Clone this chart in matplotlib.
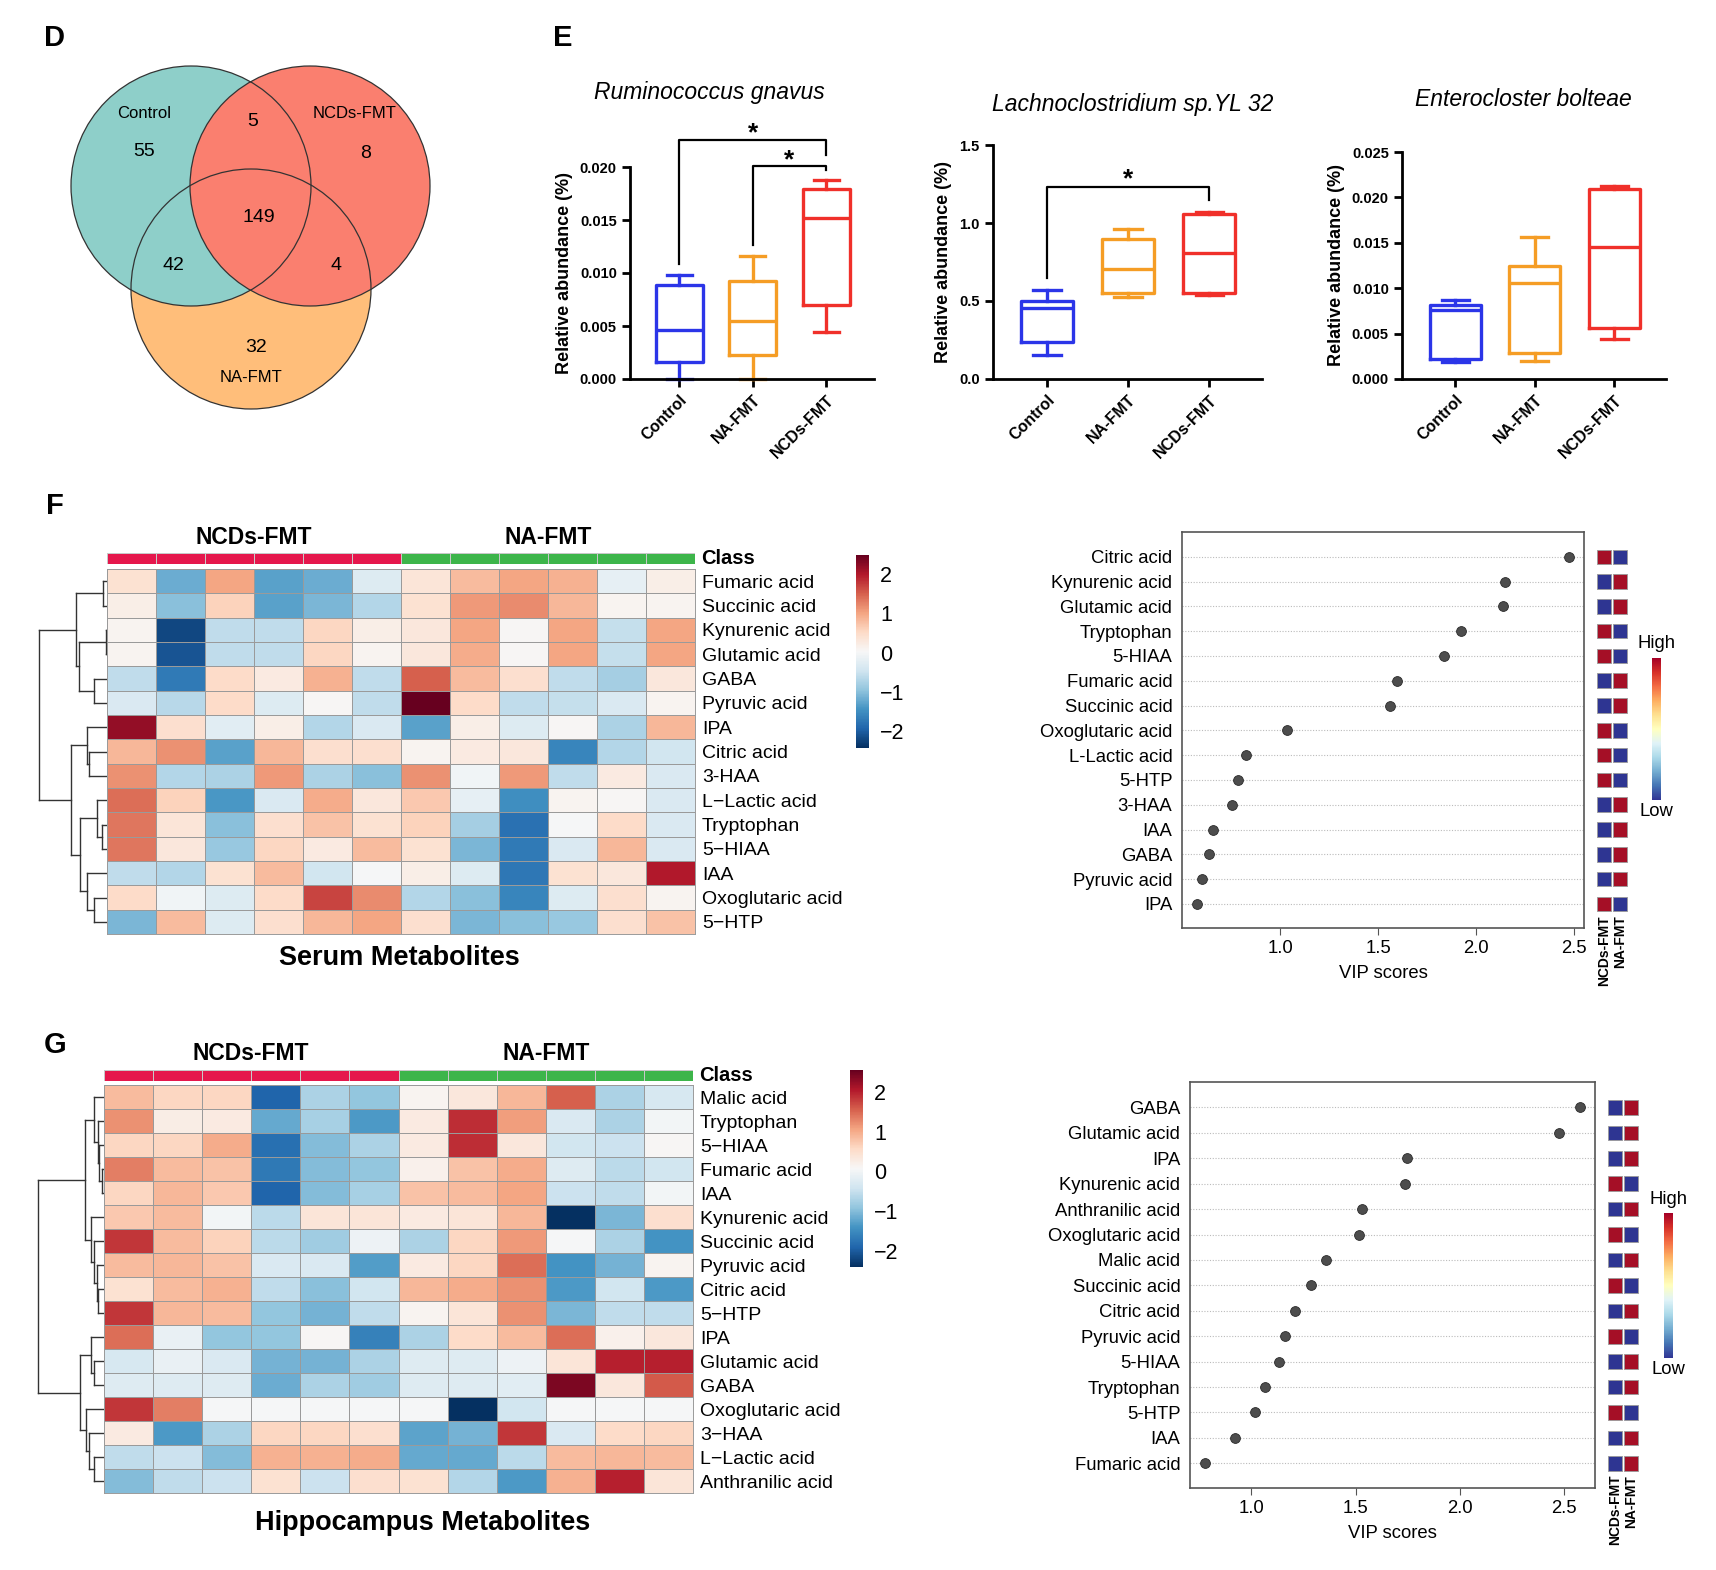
import numpy as np
import matplotlib
matplotlib.use('Agg')
import matplotlib.pyplot as plt
from matplotlib.patches import Circle
from matplotlib.colors import ListedColormap
from matplotlib import font_manager
from matplotlib.cm import ScalarMappable
from matplotlib.colors import Normalize

plt.rcParams['font.family'] = ['Liberation Sans', 'DejaVu Sans']

installed = {f.name for f in font_manager.fontManager.ttflist}
if 'Liberation Sans Narrow' in installed:
    narrow = ['Liberation Sans Narrow', 'DejaVu Sans']
    vip_fs = 14.5
else:
    narrow = ['Liberation Sans', 'DejaVu Sans']
    vip_fs = 13.3

# ---------------- data ----------------
# Venn (D)
venn_sets = ['Control', 'NCDs-FMT', 'NA-FMT']
venn_regions = ['C', 'CN', 'N', 'CNA', 'CA', 'NA', 'A']
venn_counts = [55, 5, 8, 149, 42, 4, 32]

# box plots (E)
box_groups = ['Control', 'NA-FMT', 'NCDs-FMT']
box_titles = ['Ruminococcus gnavus', 'Lachnoclostridium sp.YL 32', 'Enterocloster bolteae']

rg_min = [0.0, 0.0, 0.00441]
rg_q1 = [0.00164, 0.0023, 0.00702]
rg_med = [0.00463, 0.00548, 0.01521]
rg_q3 = [0.00885, 0.00926, 0.01795]
rg_max = [0.00983, 0.01162, 0.01874]

lc_min = [0.156, 0.528, 0.538]
lc_q1 = [0.237, 0.553, 0.553]
lc_med = [0.453, 0.703, 0.81]
lc_q3 = [0.502, 0.895, 1.058]
lc_max = [0.57, 0.959, 1.073]

eb_min = [0.00191, 0.00203, 0.00442]
eb_q1 = [0.00221, 0.00284, 0.0056]
eb_med = [0.00755, 0.01057, 0.01454]
eb_q3 = [0.0081, 0.01245, 0.02091]
eb_max = [0.00873, 0.01565, 0.02124]

# significance brackets: (group a, group b, bar level, left leg end, right leg end)
rg_sig = [(0, 2, 0.02255, 0.01087, 0.0211), (1, 2, 0.02006, 0.01266, 0.01975)]
lc_sig = [(0, 2, 1.233, 0.645, 1.147)]
eb_sig = []

# heatmap F (serum)
samples_class = [0] * 6 + [1] * 6   # 0 = NCDs-FMT, 1 = NA-FMT
serum_rows = ['Fumaric acid', 'Succinic acid', 'Kynurenic acid', 'Glutamic acid', 'GABA',
              'Pyruvic acid', 'IPA', 'Citric acid', '3-HAA', 'L\u2212Lactic acid',
              'Tryptophan', '5\u2212HIAA', 'IAA', 'Oxoglutaric acid', '5\u2212HTP']
serum_z = [
    [0.40, -1.20, 1.00, -1.30, -1.20, -0.30, 0.35, 0.80, 1.00, 0.90, -0.20, 0.20],
    [0.20, -1.00, 0.60, -1.30, -1.10, -0.70, 0.40, 1.10, 1.20, 0.85, 0.10, 0.10],
    [0.10, -2.20, -0.60, -0.60, 0.55, 0.20, 0.30, 1.00, 0.05, 1.00, -0.55, 1.00],
    [0.10, -2.10, -0.60, -0.60, 0.55, 0.10, 0.30, 0.95, 0.05, 1.00, -0.55, 1.00],
    [-0.60, -1.70, 0.50, 0.25, 0.90, -0.60, 1.50, 0.80, 0.45, -0.60, -0.80, 0.30],
    [-0.35, -0.65, 0.50, -0.30, 0.05, -0.60, 2.60, 0.50, -0.60, -0.55, -0.35, 0.10],
    [2.20, 0.45, -0.25, 0.20, -0.70, -0.35, -1.30, 0.20, -0.30, 0.05, -0.75, 0.85],
    [0.85, 1.15, -1.30, 0.85, 0.45, 0.45, 0.10, 0.25, 0.30, -1.60, -0.70, -0.45],
    [1.15, -0.70, -0.75, 1.10, -0.75, -1.00, 1.15, -0.05, 1.10, -0.60, 0.25, -0.35],
    [1.40, 0.60, -1.40, -0.35, 0.95, 0.30, 0.70, -0.20, -1.50, 0.10, 0.05, -0.35],
    [1.35, 0.35, -1.00, 0.45, 0.75, 0.40, 0.60, -0.80, -1.80, 0.00, 0.50, -0.35],
    [1.35, 0.30, -0.90, 0.55, 0.25, 0.80, 0.40, -1.10, -1.70, -0.35, 0.85, -0.35],
    [-0.60, -0.70, 0.40, 0.80, -0.45, 0.00, 0.20, -0.30, -1.75, 0.40, 0.30, 2.00],
    [0.50, -0.05, -0.30, 0.50, 1.70, 1.20, -0.70, -1.00, -1.60, -0.30, 0.45, 0.10],
    [-1.10, 0.80, -0.30, 0.45, 0.85, 1.00, 0.45, -1.10, -1.00, -0.90, 0.45, 0.75],
]
# row dendrogram: (child a, child b, height); children >= n are earlier merges
serum_merges = [(0, 1, 10), (2, 3, 2), (4, 5, 33), (16, 17, 73), (15, 18, 82),
                (7, 8, 48), (6, 20, 53), (10, 11, 12), (9, 22, 25), (13, 14, 35),
                (12, 24, 52), (23, 25, 70), (21, 26, 95), (19, 27, 180)]

# heatmap G (hippocampus)
hippo_rows = ['Malic acid', 'Tryptophan', '5\u2212HIAA', 'Fumaric acid', 'IAA', 'Kynurenic acid',
              'Succinic acid', 'Pyruvic acid', 'Citric acid', '5\u2212HTP', 'IPA', 'Glutamic acid',
              'GABA', 'Oxoglutaric acid', '3\u2212HAA', 'L\u2212Lactic acid', 'Anthranilic acid']
hippo_z = [
    [0.85, 0.60, 0.60, -1.90, -0.70, -0.90, 0.15, 0.35, 0.90, 1.55, -0.70, -0.35],
    [1.20, 0.25, 0.30, -1.20, -0.75, -1.35, 0.30, 1.90, 1.10, -0.30, -0.70, 0.00],
    [0.60, 0.60, 1.00, -1.80, -1.00, -0.70, 0.30, 1.90, 0.35, -0.40, -0.45, 0.10],
    [1.35, 0.85, 0.80, -1.70, -1.00, -0.90, 0.20, 0.80, 1.00, -0.25, -0.60, -0.40],
    [0.60, 0.90, 0.75, -1.90, -1.00, -0.75, 0.80, 0.85, 1.05, -0.45, -0.55, 0.00],
    [0.75, 0.85, 0.00, -0.60, 0.40, 0.40, 0.30, 0.40, 0.90, -2.50, -1.05, 0.50],
    [1.85, 0.85, 0.65, -0.60, -0.80, -0.05, -0.70, 0.60, 1.15, 0.05, -0.70, -1.40],
    [0.85, 0.90, 0.80, -0.30, -0.30, -1.30, 0.30, 0.60, 1.45, -1.40, -1.10, 0.15],
    [0.45, 0.85, 0.95, -0.55, -0.95, -0.40, 0.90, 1.00, 1.20, -1.35, -0.40, -1.35],
    [1.85, 0.90, 0.85, -0.90, -1.10, -0.55, 0.15, 0.40, 1.20, -1.05, -0.55, -0.55],
    [1.45, -0.10, -0.90, -0.90, 0.10, -1.60, -0.70, 0.55, 0.85, 1.45, 0.20, 0.35],
    [-0.35, -0.10, -0.30, -1.10, -1.10, -0.70, -0.25, -0.25, -0.05, 0.40, 2.00, 2.00],
    [-0.25, -0.25, -0.25, -1.15, -0.70, -0.80, -0.25, -0.25, -0.20, 2.40, 0.35, 1.60],
    [1.85, 1.35, 0.05, 0.05, 0.05, 0.05, 0.05, -2.50, -0.40, 0.05, 0.05, 0.05],
    [0.30, -1.35, -0.70, 0.60, 0.60, 0.50, -1.25, -1.10, 1.85, -0.30, 0.55, 0.60],
    [-0.55, -0.45, -1.00, 0.95, 0.95, 1.00, -1.20, -1.20, -0.60, 0.85, 0.90, 0.85],
    [-1.00, -0.55, -0.45, 0.45, -0.45, 0.50, 0.45, -0.65, -1.35, 0.95, 2.00, 0.40],
]
hippo_merges = [(3, 4, 6), (2, 17, 13), (1, 18, 16), (0, 19, 28), (8, 9, 16), (7, 21, 20),
                (6, 22, 28), (5, 23, 35), (20, 24, 53), (11, 12, 28), (10, 26, 35),
                (15, 16, 28), (14, 28, 40), (13, 29, 48), (27, 30, 65), (25, 31, 181)]

# VIP scores, with which group is higher (1 = NCDs-FMT high)
serum_vip_names = ['Citric acid', 'Kynurenic acid', 'Glutamic acid', 'Tryptophan', '5-HIAA',
                   'Fumaric acid', 'Succinic acid', 'Oxoglutaric acid', 'L-Lactic acid', '5-HTP',
                   '3-HAA', 'IAA', 'GABA', 'Pyruvic acid', 'IPA']
serum_vip = [2.473, 2.148, 2.135, 1.92, 1.836, 1.597, 1.557, 1.033, 0.825, 0.783,
             0.754, 0.657, 0.633, 0.60, 0.575]
serum_ncds_high = [1, 0, 0, 1, 1, 0, 0, 1, 1, 1, 0, 0, 0, 0, 1]

hippo_vip_names = ['GABA', 'Glutamic acid', 'IPA', 'Kynurenic acid', 'Anthranilic acid',
                   'Oxoglutaric acid', 'Malic acid', 'Succinic acid', 'Citric acid', 'Pyruvic acid',
                   '5-HIAA', 'Tryptophan', '5-HTP', 'IAA', 'Fumaric acid']
hippo_vip = [2.578, 2.479, 1.749, 1.737, 1.53, 1.516, 1.359, 1.287, 1.21, 1.159,
             1.134, 1.064, 1.019, 0.92, 0.775]
hippo_ncds_high = [0, 0, 0, 1, 0, 1, 0, 1, 0, 1, 0, 0, 1, 0, 0]

# ---------------- figure ----------------
W, H = 1716, 1570
fig = plt.figure(figsize=(W / 100, H / 100), dpi=100)


def px_axes(l, t, r, b):
    return fig.add_axes([l / W, 1 - b / H, (r - l) / W, (b - t) / H])


def ftext(x, y, s, **kw):
    fig.text(x / W, 1 - y / H, s, **kw)


for lab, (x, y) in zip('DEFG', [(55, 38), (563, 38), (55, 506), (55, 1045)]):
    ftext(x, y, lab, fontsize=21, fontweight='bold', ha='center', va='center')

# ---- D: Venn ----
ax = px_axes(0, 0, 560, 480)
ax.set_xlim(0, 560)
ax.set_ylim(480, 0)
ax.axis('off')
centers = {'Control': (191, 186), 'NCDs-FMT': (310, 186), 'NA-FMT': (251, 289)}
fills = {'Control': '#8ECFC9', 'NCDs-FMT': '#FA7F6F', 'NA-FMT': '#FFBE7A'}
rad = 120
for name in ['NA-FMT', 'Control', 'NCDs-FMT']:
    ax.add_patch(Circle(centers[name], rad, facecolor=fills[name], edgecolor='none'))
for name in venn_sets:
    ax.add_patch(Circle(centers[name], rad, facecolor='none', edgecolor='#333333', lw=0.9))
region_xy = {'C': (144, 152), 'CN': (253, 122), 'N': (366, 153), 'CNA': (259, 217),
             'CA': (173, 266), 'NA': (336, 266), 'A': (256, 347)}
for reg, cnt in zip(venn_regions, venn_counts):
    ax.text(*region_xy[reg], str(cnt), fontsize=14, ha='center', va='center')
set_xy = {'Control': (144, 113), 'NCDs-FMT': (355, 114), 'NA-FMT': (251, 377)}
for name in venn_sets:
    ax.text(*set_xy[name], name, fontsize=12, ha='center', va='center')

# ---- E: box plots ----
box_colors = ['#2B35E8', '#F59D25', '#F0302A']
box_sets = [
    (rg_min, rg_q1, rg_med, rg_q3, rg_max, rg_sig, (630, 167, 874, 379), 0.020, 0.005, '%.3f', (709, 93)),
    (lc_min, lc_q1, lc_med, lc_q3, lc_max, lc_sig, (993, 145, 1262, 379), 1.5, 0.5, '%.1f', (1133, 104)),
    (eb_min, eb_q1, eb_med, eb_q3, eb_max, eb_sig, (1402, 152, 1666, 379), 0.025, 0.005, '%.3f', (1523, 100)),
]
for (mn, q1, md, q3, mx, sig, rect, ytop, ystep, fmt, tpos), title in zip(box_sets, box_titles):
    ax = px_axes(*rect)
    stats = [dict(whislo=a, q1=b, med=c, q3=d, whishi=e, fliers=[])
             for a, b, c, d, e in zip(mn, q1, md, q3, mx)]
    bp = ax.bxp(stats, positions=range(3), widths=0.64, capwidths=0.34, showfliers=False,
                patch_artist=False)
    for i, col in enumerate(box_colors):
        for art in [bp['boxes'][i], bp['medians'][i], bp['whiskers'][2 * i], bp['whiskers'][2 * i + 1],
                    bp['caps'][2 * i], bp['caps'][2 * i + 1]]:
            art.set_color(col)
            art.set_linewidth(2.4)
            art.set_clip_on(False)
    ax.set_xlim(-0.667, 2.65)
    ax.set_ylim(0, ytop)
    ticks = np.arange(0, ytop + ystep / 2, ystep)
    ax.set_yticks(ticks)
    ax.set_yticklabels([fmt % t for t in ticks], fontweight='bold', fontsize=10.5)
    ax.set_xticks(range(3))
    ax.set_xticklabels(box_groups, rotation=45, ha='right', va='top', rotation_mode='anchor',
                       fontweight='bold', fontsize=11.5)
    for s in ['top', 'right']:
        ax.spines[s].set_visible(False)
    for s in ['left', 'bottom']:
        ax.spines[s].set_linewidth(2)
    ax.tick_params(width=2, length=6)
    ax.set_ylabel('Relative abundance (%)', fontweight='bold', fontsize=13, labelpad=5)
    for a, b, lvl, la, lb in sig:
        ax.plot([a, a, b, b], [la, lvl, lvl, lb], color='black', lw=1.6, clip_on=False)
        ax.text((a + b) / 2, lvl + ytop * 0.03, '*', fontsize=19, fontweight='bold',
                ha='center', va='center')
    ftext(tpos[0], tpos[1], title, fontsize=16.5, style='italic', ha='center', va='center')


# ---- heatmaps ----
def draw_dendro(ax, merges, n):
    ypos = {i: i + 0.5 for i in range(n)}
    hgt = {i: 0.0 for i in range(n)}
    for k, (a, b, h) in enumerate(merges):
        for c in (a, b):
            ax.plot([-hgt[c], -h], [ypos[c], ypos[c]], color='#333333', lw=1.0)
        ax.plot([-h, -h], [ypos[a], ypos[b]], color='#333333', lw=1.0)
        ypos[n + k] = (ypos[a] + ypos[b]) / 2
        hgt[n + k] = h
    ax.set_ylim(n, 0)
    ax.set_xlim(-merges[-1][2] - 1.5, 0)
    ax.axis('off')


heat_cmap = plt.get_cmap('RdBu_r')
class_cmap = ListedColormap(['#E5174C', '#3DB54A'])


def draw_heat(z, rows, merges, left, top, right, bottom, bar_top, bar_bot, cbar_rect,
              vmin, vmax, xroot, title, title_xy, head_y):
    z = np.array(z)
    n = len(rows)
    ax = px_axes(left, top, right, bottom)
    mesh = ax.pcolormesh(z, cmap=heat_cmap, vmin=vmin, vmax=vmax, edgecolors='#9A9A9A', linewidth=0.7)
    ax.set_ylim(n, 0)
    ax.set_xlim(0, z.shape[1])
    ax.set_xticks([])
    ax.set_yticks(np.arange(n) + 0.5)
    ax.yaxis.tick_right()
    ax.set_yticklabels(rows, fontsize=14)
    ax.tick_params(axis='y', length=0, pad=5)
    for s in ax.spines.values():
        s.set_color('#9A9A9A')
        s.set_linewidth(0.7)
    # class bar
    axc = px_axes(left, bar_top, right, bar_bot)
    axc.pcolormesh(np.array([samples_class]), cmap=class_cmap, vmin=0, vmax=1,
                   edgecolors='#C8C8C8', linewidth=0.7)
    axc.set_xticks([])
    axc.set_yticks([])
    for s in axc.spines.values():
        s.set_visible(False)
    ftext(right + 6, (bar_top + bar_bot) / 2, 'Class', fontsize=14.5, fontweight='bold', va='center')
    cw = (right - left) / len(samples_class)
    ftext(left + 3 * cw, head_y, 'NCDs-FMT', fontsize=16.5, fontweight='bold', ha='center', va='center')
    ftext(left + 9 * cw, head_y, 'NA-FMT', fontsize=16.5, fontweight='bold', ha='center', va='center')
    # dendrogram
    axd = px_axes(xroot, top, left, bottom)
    draw_dendro(axd, merges, n)
    # colorbar
    cax = px_axes(*cbar_rect)
    cb = fig.colorbar(mesh, cax=cax, ticks=[-2, -1, 0, 1, 2])
    cb.outline.set_visible(False)
    cax.tick_params(length=0, labelsize=15.5, pad=8)
    ftext(title_xy[0], title_xy[1], title, fontsize=19.5, fontweight='bold', ha='center', va='center')


draw_heat(serum_z, serum_rows, serum_merges, 107, 569, 695, 934, 553, 564, (856, 555, 869, 748),
          -2.43, 2.49, 38, 'Serum Metabolites', (399, 958), 537)
draw_heat(hippo_z, hippo_rows, hippo_merges, 104, 1085, 693, 1493, 1070, 1081, (850, 1070, 863, 1267),
          -2.40, 2.55, 37, 'Hippocampus Metabolites', (423, 1523), 1053)

# ---- VIP plots ----
sq_colors = {1: '#A50F26', 0: '#2E3592'}
vip_cmap = plt.get_cmap('RdYlBu_r')


def draw_vip(names, vip, high, rect, xlim, sq_rect, cbar_rect, high_y, low_y):
    n = len(names)
    ypos = np.arange(n)
    ax = px_axes(*rect)
    ax.set_xlim(*xlim)
    ax.set_ylim(n - 0.03, -1.0)
    ax.hlines(ypos, xlim[0], xlim[1], colors='#BBBBBB', linestyles=(0, (1, 1.5)), lw=0.8)
    ax.scatter(vip, ypos, s=50, color='#4D4D4D', edgecolors='#2A2A2A', linewidths=0.6, zorder=3)
    ax.set_yticks(ypos)
    ax.set_yticklabels(names, fontsize=vip_fs, family=narrow)
    ax.set_xticks([1.0, 1.5, 2.0, 2.5])
    ax.set_xticklabels(['1.0', '1.5', '2.0', '2.5'], fontsize=vip_fs, family=narrow)
    ax.tick_params(axis='y', length=0, pad=7)
    ax.tick_params(axis='x', length=5, color='#555555')
    for s in ax.spines.values():
        s.set_color('#555555')
        s.set_linewidth(1.2)
    ax.set_xlabel('VIP scores', fontsize=vip_fs, family=narrow, labelpad=6)
    # group squares
    axs = px_axes(*sq_rect)
    axs.set_xlim(-0.5, 1.5)
    axs.set_ylim(n - 0.03, -1.0)
    axs.axis('off')
    c_ncds = [sq_colors[h] for h in high]
    c_na = [sq_colors[1 - h] for h in high]
    axs.scatter(np.zeros(n), ypos, marker='s', s=110, c=c_ncds, edgecolors='#9A9A9A', linewidths=0.6)
    axs.scatter(np.ones(n), ypos, marker='s', s=110, c=c_na, edgecolors='#9A9A9A', linewidths=0.6)
    axs.text(0, n - 0.55, 'NCDs-FMT', rotation=90, ha='center', va='top', fontsize=10,
             fontweight='bold', clip_on=False)
    axs.text(1, n - 0.55, 'NA-FMT', rotation=90, ha='center', va='top', fontsize=10,
             fontweight='bold', clip_on=False)
    # high/low bar
    cax = px_axes(*cbar_rect)
    cb = fig.colorbar(ScalarMappable(norm=Normalize(0, 1), cmap=vip_cmap), cax=cax, ticks=[])
    cb.outline.set_visible(False)
    cx = (cbar_rect[0] + cbar_rect[2]) / 2
    ftext(cx, high_y, 'High', fontsize=vip_fs, family=narrow, ha='center', va='center')
    ftext(cx, low_y, 'Low', fontsize=vip_fs, family=narrow, ha='center', va='center')


draw_vip(serum_vip_names, serum_vip, serum_ncds_high, (1182, 532, 1584, 928), (0.497, 2.55),
         (1596, 532, 1628, 928), (1652, 658, 1661, 800), 644, 811)
draw_vip(hippo_vip_names, hippo_vip, hippo_ncds_high, (1190, 1082, 1595, 1488), (0.705, 2.65),
         (1607, 1082, 1639, 1488), (1664, 1213, 1673, 1358), 1199, 1370)

fig.savefig('out.png', dpi=100, facecolor='white')
